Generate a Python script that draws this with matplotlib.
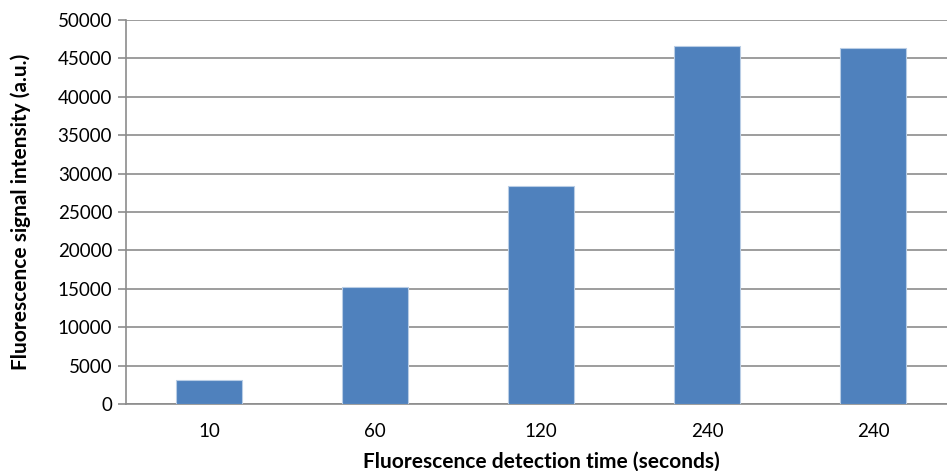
import matplotlib
matplotlib.use("Agg")
import matplotlib.pyplot as plt
import numpy as np

categories = ["10", "60", "120", "240", "240"]
values = [3150, 15250, 28400, 46650, 46300]
yticks = [0, 5000, 10000, 15000, 20000, 25000, 30000, 35000, 40000, 45000, 50000]

plt.rcParams['font.family'] = ['Lato', 'DejaVu Sans']

fig = plt.figure(figsize=(9.47, 4.71), dpi=100)
ax = fig.add_axes([126/947, 1-404/471, (956-126)/947, (404-20)/471])

x = np.arange(len(categories))
ax.bar(x, values, width=0.40, color="#4F81BD", edgecolor="#B9CDE5", linewidth=0.8, zorder=3)

ax.set_xlim(-0.5, len(categories) - 0.5)
ax.set_ylim(0, 50000)
ax.set_yticks(yticks)
ax.set_yticklabels([str(t) for t in yticks])
ax.set_xticks(x)
ax.set_xticklabels(categories)

ax.yaxis.grid(True, color="#8C8C8C", linewidth=1.2, zorder=0)
ax.set_axisbelow(True)
for s in ["top", "right"]:
    ax.spines[s].set_visible(False)
for s in ["left", "bottom"]:
    ax.spines[s].set_color("#8C8C8C")
    ax.spines[s].set_linewidth(1.2)

ax.tick_params(axis="y", length=6, width=1.2, color="#8C8C8C", labelsize=13.5, pad=4)
ax.tick_params(axis="x", length=0, labelsize=13.5, pad=14)

ax.set_ylabel("Fluorescence signal intensity (a.u.)", fontsize=15, fontweight="bold")
ax.yaxis.set_label_coords(-(126-31)/830, 0.5)
ax.set_xlabel("Fluorescence detection time (seconds)", fontsize=15, fontweight="bold")
ax.xaxis.set_label_coords(0.5, -(452-404)/384)

fig.savefig("out.png", dpi=100)
